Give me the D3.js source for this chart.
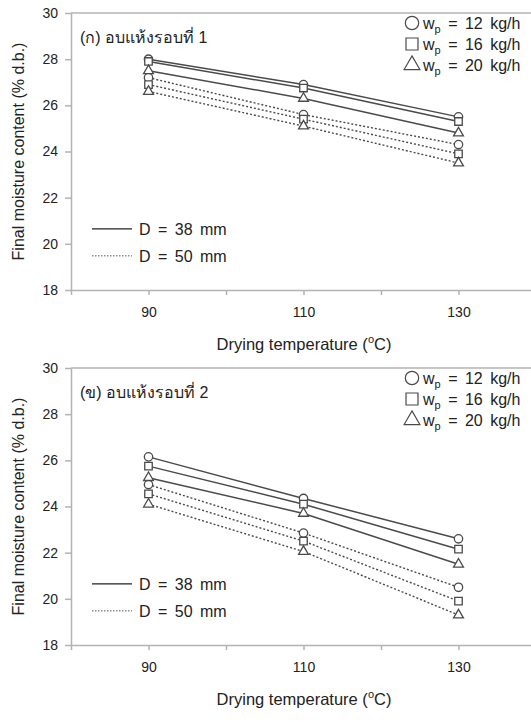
<!DOCTYPE html>
<html>
<head>
<meta charset="utf-8">
<script src="https://cdn.jsdelivr.net/npm/d3@7"></script>
<style>
body { margin: 0; background: #fff; }
svg { display: block; }
text { font-family: "Liberation Sans", Arial, sans-serif; fill: #222; }
</style>
</head>
<body>
<div id="chart"></div>
<script>
// data
const temps = [90, 110, 130];
const rates = [12, 16, 20];
const shapes = ['circle', 'square', 'triangle'];
const xTicks = [80, 90, 100, 110, 120, 130];
const xLabels = [90, 110, 130];
const yTicks = [18, 20, 22, 24, 26, 28, 30];
// rows = wp 12, 16, 20 kg/h ; columns = temps
const run1D38 = [[28.0, 26.9, 25.5], [27.9, 26.75, 25.3], [27.5, 26.3, 24.8]];
const run1D50 = [[27.2, 25.6, 24.3], [26.9, 25.4, 23.9], [26.6, 25.1, 23.5]];
const run2D38 = [[26.15, 24.35, 22.6], [25.75, 24.1, 22.15], [25.25, 23.7, 21.5]];
const run2D50 = [[24.95, 22.85, 20.5], [24.55, 22.5, 19.9], [24.1, 22.05, 19.3]];
const panelLabels = ['(ก) อบแห้งรอบที่ 1', '(ข) อบแห้งรอบที่ 2'];
const diameters = ['D = 38 mm', 'D = 50 mm'];

const W = 531, H = 722;
const svg = d3.select('#chart').append('svg').attr('width', W).attr('height', H);

const left = 71, right = 536, plotH = 277;
const x = d3.scaleLinear().domain([80, 140]).range([left, right]);
const axisColor = '#b3b3b3';
const lineColor = '#4a4a4a';

function marker(g, shape, cx, cy, big) {
	const s = big ? 1.6 : 1;
	let sym;
	if (shape === 'circle') sym = d3.symbol(d3.symbolCircle, 55 * s * s);
	else if (shape === 'square') sym = d3.symbol(d3.symbolSquare, 56 * s * s);
	else sym = d3.symbol(d3.symbolTriangle, 42 * s * s);
	g.append('path').attr('d', sym()).attr('transform', `translate(${cx},${cy})`)
		.attr('fill', '#fff').attr('stroke', lineColor).attr('stroke-width', big ? 1.2 : 1.3);
}

function drawPanel(top, solid, dashed, label) {
	const y = d3.scaleLinear().domain([18, 30]).range([top + plotH, top]);
	const g = svg.append('g');

	// plot frame top
	g.append('line').attr('x1', left).attr('x2', right).attr('y1', y(30)).attr('y2', y(30))
		.attr('stroke', axisColor).attr('stroke-width', 1.5);

	const yAxis = g.append('g').attr('transform', `translate(${left},0)`)
		.call(d3.axisLeft(y).tickValues(yTicks).tickSize(6).tickSizeOuter(0).tickPadding(7));
	const xAxis = g.append('g').attr('transform', `translate(0,${y(18)})`)
		.call(d3.axisBottom(x).tickValues(xTicks).tickSize(5).tickSizeOuter(0).tickPadding(12)
			.tickFormat(d => xLabels.includes(d) ? d : ''));
	[yAxis, xAxis].forEach(a => {
		a.select('.domain').attr('stroke', axisColor).attr('stroke-width', 1.5);
		a.selectAll('.tick line').attr('stroke', axisColor).attr('stroke-width', 1.5);
		a.selectAll('.tick text').style('font-family', '"Liberation Sans", Arial, sans-serif')
			.style('font-size', '14px').attr('fill', '#222');
	});

	// axis titles
	const xt = g.append('text').attr('x', 304).attr('y', y(18) + 60).attr('text-anchor', 'middle')
		.style('font-size', '16.5px');
	xt.append('tspan').text('Drying temperature (');
	xt.append('tspan').text('o').style('font-size', '11px').attr('dy', -7);
	xt.append('tspan').text('C)').attr('dy', 7);

	g.append('text').attr('transform', `translate(24,${top + plotH / 2}) rotate(-90)`)
		.attr('text-anchor', 'middle').style('font-size', '16px')
		.text('Final moisture content (% d.b.)');

	const line = d3.line().x((d, i) => x(temps[i])).y(d => y(d));
	dashed.forEach(vals => {
		g.append('path').attr('d', line(vals)).attr('fill', 'none').attr('stroke', lineColor)
			.attr('stroke-width', 1.4).attr('stroke-dasharray', '2,2');
	});
	solid.forEach(vals => {
		g.append('path').attr('d', line(vals)).attr('fill', 'none').attr('stroke', lineColor)
			.attr('stroke-width', 1.5);
	});
	[dashed, solid].forEach(set => {
		set.forEach((vals, k) => {
			vals.forEach((v, i) => marker(g, shapes[k], x(temps[i]), y(v), false));
		});
	});

	// panel label
	g.append('text').attr('x', 80).attr('y', top + 30).style('font-size', '16px').text(label);

	// wp legend
	rates.forEach((r, k) => {
		const ly = top + 10 + k * 21;
		marker(g, shapes[k], 412, ly, true);
		const t = g.append('text').attr('x', 423).attr('y', ly + 6).style('font-size', '16px')
			.style('word-spacing', '3px');
		t.append('tspan').text('w');
		t.append('tspan').text('p').style('font-size', '11px').attr('dy', 4);
		t.append('tspan').text(` = ${r} kg/h`).attr('dy', -4);
	});

	// D legend
	diameters.forEach((d, k) => {
		const ly = y(20) - 15 + k * 27;
		g.append('line').attr('x1', 92).attr('x2', 132).attr('y1', ly).attr('y2', ly)
			.attr('stroke', k === 0 ? '#222' : '#555').attr('stroke-width', k === 0 ? 1.2 : 1)
			.attr('stroke-dasharray', k === 0 ? null : '1.5,1.5');
		g.append('text').attr('x', 139).attr('y', ly + 6).style('font-size', '16px')
			.style('word-spacing', '3px').text(d);
	});
}

drawPanel(13, run1D38, run1D50, panelLabels[0]);
drawPanel(368, run2D38, run2D50, panelLabels[1]);
</script>
</body>
</html>
